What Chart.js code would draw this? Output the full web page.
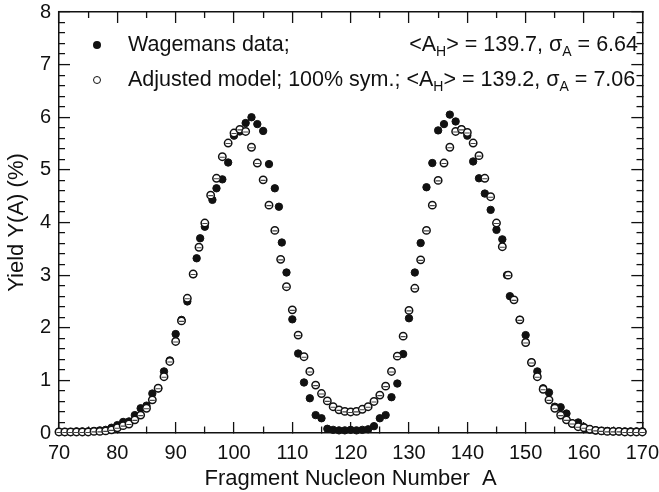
<!DOCTYPE html>
<html>
<head>
<meta charset="utf-8">
<script src="https://cdn.jsdelivr.net/npm/chart.js@4/dist/chart.umd.min.js"></script>
<style>
  body { margin: 0; background: #fff; }
  #wrap { position: relative; width: 659px; height: 492px; font-family: "Liberation Sans", Arial, sans-serif; }
  .row { position: absolute; left: 0; width: 640px; height: 24px; font-size: 21.5px; color: #111; }
  .row .mk { position: absolute; left: 93px; top: 9px; width: 8px; height: 8px; border-radius: 50%; box-sizing: border-box; }
  .row .lab { position: absolute; left: 128px; top: 0; white-space: nowrap; }
  .row .st { position: absolute; right: 2px; top: 0; white-space: nowrap; }
  sub { font-size: 14px; vertical-align: -5px; line-height: 0; }
</style>
</head>
<body>
<div id="wrap">
  <canvas id="myChart" width="659" height="492"></canvas>
  <div class="row" style="top:32px">
    <span class="mk" style="background:#111"></span>
    <span class="lab">Wagemans data;</span>
    <span class="st">&lt;A<sub>H</sub>&gt; = 139.7, &sigma;<sub>A</sub> = 6.64</span>
  </div>
  <div class="row" style="top:67px">
    <span class="mk" style="background:#fff;border:1.5px solid #111"></span>
    <span class="lab">Adjusted model; 100% sym.; &lt;A<sub>H</sub>&gt; = 139.2, &sigma;<sub>A</sub> = 7.06</span>
  </div>
</div>
<script>
// Wagemans data (filled dots): mass number and yield in %
const dataA = [70, 71, 72, 73, 74, 75, 76, 77, 78, 79,
	80, 81, 82, 83, 84, 85, 86, 87, 88, 89,
	90, 91, 92, 93, 93.6, 94.2, 95, 96.3, 97, 98,
	99, 100, 101, 102, 103, 104, 105, 106, 107, 107.7,
	108.2, 109, 110, 111, 112, 113, 114, 115, 116, 117,
	118, 119, 120, 121, 122, 123, 124, 125, 126, 127,
	128, 129, 130, 131, 132, 133, 134, 135, 136, 137,
	138, 139, 140, 141, 142, 143, 144, 145, 146, 146.8,
	147.3, 149, 150, 151, 152, 153, 154, 155, 156, 157,
	158, 159, 160, 161, 162, 163, 164, 165, 166, 167,
	168, 169, 170];
const dataY = [0.02, 0.02, 0.02, 0.03, 0.03, 0.03, 0.04, 0.05, 0.06, 0.10,
	0.15, 0.21, 0.22, 0.34, 0.47, 0.52, 0.75, 0.85, 1.17, 1.38,
	1.88, 2.15, 2.50, 3.02, 3.32, 3.70, 3.92, 4.43, 4.65, 4.82,
	5.14, 5.65, 5.73, 5.89, 6.00, 5.87, 5.74, 5.11, 4.65, 4.30,
	3.62, 3.05, 2.16, 1.51, 0.96, 0.66, 0.34, 0.28, 0.08, 0.06,
	0.05, 0.05, 0.06, 0.05, 0.06, 0.07, 0.13, 0.28, 0.34, 0.68,
	0.94, 1.50, 2.18, 3.05, 3.61, 4.67, 5.13, 5.75, 5.87, 6.05,
	5.92, 5.77, 5.65, 5.16, 4.84, 4.55, 4.24, 3.86, 3.68, 3.00,
	2.60, 2.15, 1.86, 1.34, 1.17, 0.85, 0.77, 0.50, 0.49, 0.37,
	0.18, 0.20, 0.11, 0.07, 0.05, 0.04, 0.04, 0.03, 0.03, 0.03,
	0.03, 0.03, 0.03];

// adjusted model (open circles), one value per A from 70 to 170
const modelA = Array.from({ length: 101 }, (_, i) => 70 + i);
const modelY = [0.02, 0.02, 0.02, 0.02, 0.02, 0.02, 0.03, 0.03, 0.04, 0.06,
	0.10, 0.14, 0.17, 0.25, 0.34, 0.47, 0.63, 0.85, 1.07, 1.36,
	1.74, 2.13, 2.56, 3.02, 3.53, 3.99, 4.52, 4.84, 5.25, 5.51,
	5.70, 5.77, 5.73, 5.43, 5.13, 4.81, 4.33, 3.85, 3.30, 2.78,
	2.34, 1.86, 1.45, 1.17, 0.91, 0.75, 0.61, 0.50, 0.44, 0.41,
	0.40, 0.41, 0.45, 0.50, 0.60, 0.72, 0.89, 1.17, 1.46, 1.84,
	2.33, 2.75, 3.29, 3.85, 4.33, 4.80, 5.13, 5.43, 5.73, 5.77,
	5.71, 5.51, 5.27, 4.84, 4.49, 3.99, 3.54, 3.00, 2.53, 2.15,
	1.72, 1.34, 1.07, 0.83, 0.63, 0.47, 0.34, 0.25, 0.18, 0.12,
	0.10, 0.07, 0.05, 0.04, 0.03, 0.03, 0.03, 0.02, 0.02, 0.02,
	0.02];

// labelled ticks
const xTicks = [70, 80, 90, 100, 110, 120, 130, 140, 150, 160, 170];
const yTicks = [0, 1, 2, 3, 4, 5, 6, 7, 8];

// all tick marks (minor included): every 5 on x, every 0.2 on y
let xMarks = [];
for (let v = 70; v <= 170; v += 5) xMarks.push(v);
let yMarks = [];
for (let i = 0; i <= 40; i++) yMarks.push(Math.round(i * 2) / 10);

const font = "'Liberation Sans', Arial, sans-serif";
const ink = "#111";

const isMajorX = v => xTicks.includes(v);
const isMajorY = v => Math.abs(v - Math.round(v)) < 1e-6;

// small bar inside each open circle (error bar look)
Chart.register({
	id: 'innerBars',
	afterDatasetsDraw(chart) {
		const ctx = chart.ctx;
		const meta = chart.getDatasetMeta(0);
		ctx.save();
		ctx.strokeStyle = '#444';
		ctx.lineWidth = 1.1;
		ctx.beginPath();
		meta.data.forEach(pt => {
			ctx.moveTo(pt.x - 2.5, pt.y + 0.5);
			ctx.lineTo(pt.x + 2.5, pt.y + 0.5);
		});
		ctx.stroke();
		ctx.restore();
	}
});

// inward marks: major ones full length, minor ones cut short with a dash.
// bottom/right marks start at the border, top/left ones start inside.
function markGrid(isMajor, fromBorder) {
	return {
		display: true,
		drawOnChartArea: false,
		drawTicks: true,
		tickLength: -11,
		color: ink,
		lineWidth: 1.2,
		tickWidth: 1.3,
		tickBorderDash: c => isMajor(c.tick.value) ? [] : (fromBorder ? [7, 100] : [0, 5, 7, 100])
	};
}
const box = { display: true, color: ink, width: 1.5 };

new Chart("myChart", {
	type: "scatter",
	data: {
		datasets: [{
			label: "Adjusted model",
			data: modelA.map((a, i) => ({ x: a, y: modelY[i] })),
			xAxisID: "x",
			yAxisID: "y",
			pointStyle: "circle",
			pointRadius: 3.7,
			pointBackgroundColor: "#fff",
			pointBorderColor: ink,
			pointBorderWidth: 1.5,
			order: 0
		}, {
			label: "Wagemans data",
			data: dataA.map((a, i) => ({ x: a, y: dataY[i] })),
			xAxisID: "x",
			yAxisID: "y",
			pointStyle: "circle",
			pointRadius: 3.7,
			pointBackgroundColor: ink,
			pointBorderColor: ink,
			pointBorderWidth: 1,
			order: 1
		}]
	},
	options: {
		responsive: false,
		animation: false,
		clip: false,
		layout: { padding: { top: 4, right: 14, left: 0, bottom: 0 } },
		plugins: { legend: { display: false }, tooltip: { enabled: false } },
		scales: {
			// labelled axes, no marks of their own
			x: {
				type: "linear",
				axis: "x",
				position: "bottom",
				weight: 0,
				min: 70,
				max: 170,
				afterFit: s => { s.height = 59; },
				afterBuildTicks: s => { s.ticks = xTicks.map(v => ({ value: v })); },
				grid: { display: false },
				border: { display: false },
				ticks: { color: ink, font: { family: font, size: 20 }, padding: 0, maxRotation: 0 },
				title: { display: true, text: "Fragment Nucleon Number  A", color: ink, font: { family: font, size: 22 }, padding: 0 }
			},
			y: {
				type: "linear",
				axis: "y",
				position: "left",
				weight: 0,
				min: 0,
				max: 8,
				afterFit: s => { s.width = 59; },
				afterBuildTicks: s => { s.ticks = yTicks.map(v => ({ value: v })); },
				grid: { display: false },
				border: { display: false },
				ticks: { color: ink, font: { family: font, size: 20 }, padding: 0 },
				title: { display: true, text: "Yield Y(A) (%)", color: ink, font: { family: font, size: 22 }, padding: { top: 4, bottom: 0 } }
			},
			// zero-size axes on the four sides: the box and the inward marks
			xb: {
				type: "linear", axis: "x", position: "bottom", weight: -1, min: 70, max: 170,
				afterFit: s => { s.height = 0; },
				afterBuildTicks: s => { s.ticks = xMarks.map(v => ({ value: v })); },
				grid: markGrid(isMajorX, true),
				border: box,
				ticks: { display: false, autoSkip: false }
			},
			xt: {
				type: "linear", axis: "x", position: "top", weight: -1, min: 70, max: 170,
				afterFit: s => { s.height = 0; },
				afterBuildTicks: s => { s.ticks = xMarks.map(v => ({ value: v })); },
				grid: markGrid(isMajorX, false),
				border: box,
				ticks: { display: false, autoSkip: false }
			},
			yl: {
				type: "linear", axis: "y", position: "left", weight: -1, min: 0, max: 8,
				afterFit: s => { s.width = 0; },
				afterBuildTicks: s => { s.ticks = yMarks.map(v => ({ value: v })); },
				grid: markGrid(isMajorY, false),
				border: box,
				ticks: { display: false, autoSkip: false }
			},
			yr: {
				type: "linear", axis: "y", position: "right", weight: -1, min: 0, max: 8,
				afterFit: s => { s.width = 0; },
				afterBuildTicks: s => { s.ticks = yMarks.map(v => ({ value: v })); },
				grid: markGrid(isMajorY, true),
				border: box,
				ticks: { display: false, autoSkip: false }
			}
		}
	}
});
</script>
</body>
</html>
